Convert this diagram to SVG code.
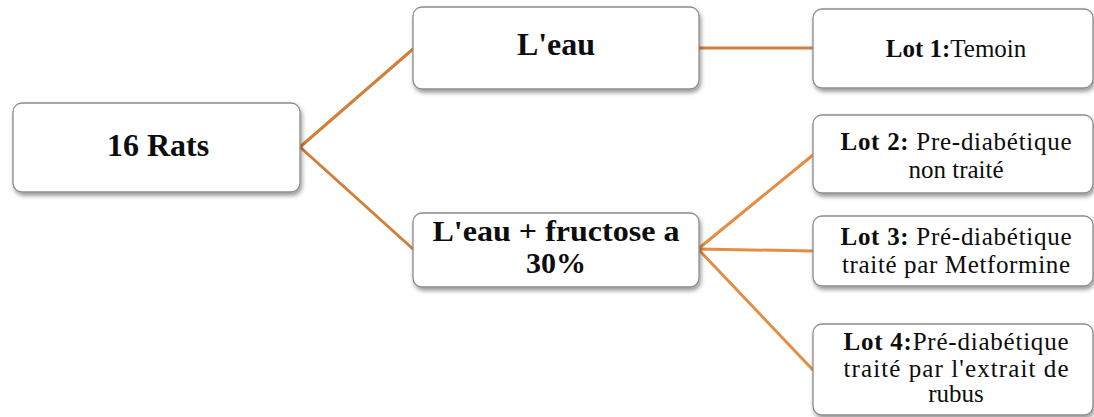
<svg xmlns="http://www.w3.org/2000/svg" width="1094" height="417" viewBox="0 0 1094 417">
  <defs>
    <filter id="shadow" x="-10%" y="-20%" width="125%" height="150%">
      <feDropShadow dx="1.5" dy="3" stdDeviation="2" flood-color="#000" flood-opacity="0.4"/>
    </filter>
  </defs>
  <style>
    .box { fill: #ffffff; stroke: #8c8c8c; stroke-width: 1.3; filter: url(#shadow); }
    .lbl { fill: #0d0d0d; text-anchor: middle; }
    .big { font-size: 32px; font-weight: bold; }
    .mid { font-size: 30px; font-weight: bold; }
    .lot { font-size: 25px; }
    .b { font-weight: bold; }
    .link-a { stroke: #d27f3a; stroke-width: 3; fill: none; stroke-linecap: round; }
    .link-b { stroke: #e48d45; stroke-width: 3; fill: none; stroke-linecap: round; }
  </style>

  <!-- connectors -->
  <g id="connectors">
    <path class="link-a" d="M300 147 L413 49"/>
    <path class="link-a" d="M300 147 L413 249"/>
    <path class="link-a" d="M699 48 L813 48"/>
    <path class="link-b" d="M698 249 L813 155"/>
    <path class="link-b" d="M698 249 L813 251"/>
    <path class="link-b" d="M698 249 L813 370"/>
  </g>

  <g font-family="Liberation Serif, Times New Roman, serif">
    <!-- root -->
    <g id="rats">
      <rect class="box" x="13" y="103" width="287" height="89" rx="9"/>
      <text class="lbl big" x="158" y="156" font-size="35">16 Rats</text>
    </g>

    <!-- drinking water groups -->
    <g id="eau">
      <rect class="box" x="413" y="7" width="286" height="82" rx="9"/>
      <text class="lbl big" x="556" y="55">L'eau</text>
    </g>
    <g id="eau-fructose">
      <rect class="box" x="413" y="213" width="286" height="74" rx="9"/>
      <text class="lbl mid" x="556" y="241" textLength="247" lengthAdjust="spacingAndGlyphs">L'eau + fructose a</text>
      <text class="lbl mid" x="556" y="273">30%</text>
    </g>

    <!-- lots -->
    <g id="lot1">
      <rect class="box" x="813" y="9" width="280" height="79" rx="9"/>
      <text class="lbl lot" x="956" y="57" font-size="26"><tspan class="b">Lot 1:</tspan>Temoin</text>
    </g>
    <g id="lot2">
      <rect class="box" x="813" y="115" width="280" height="78" rx="9"/>
      <text class="lbl lot" x="956" y="150" textLength="231" lengthAdjust="spacing"><tspan class="b">Lot 2:</tspan> Pre-diabétique</text>
      <text class="lbl lot" x="956" y="178">non  traité</text>
    </g>
    <g id="lot3">
      <rect class="box" x="813" y="216" width="280" height="70" rx="9"/>
      <text class="lbl lot" x="956" y="245" textLength="231" lengthAdjust="spacing"><tspan class="b">Lot 3:</tspan> Pré-diabétique</text>
      <text class="lbl lot" x="956" y="273" textLength="228" lengthAdjust="spacing">traité  par Metformine</text>
    </g>
    <g id="lot4">
      <rect class="box" x="813" y="324" width="280" height="91" rx="9"/>
      <text class="lbl lot" x="956" y="350" textLength="225" lengthAdjust="spacing"><tspan class="b">Lot 4:</tspan>Pré-diabétique</text>
      <text class="lbl lot" x="956" y="377" textLength="225" lengthAdjust="spacing">traité  par l'extrait  de</text>
      <text class="lbl lot" x="956" y="402">rubus</text>
    </g>
  </g>
</svg>
